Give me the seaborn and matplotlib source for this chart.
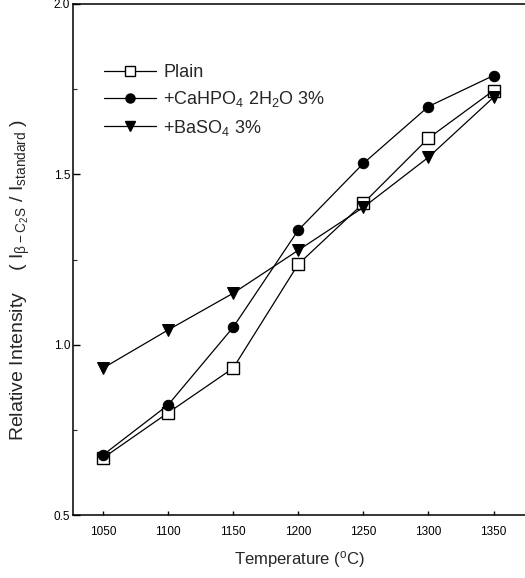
import matplotlib
matplotlib.use("Agg")
import matplotlib.pyplot as plt
import seaborn as sns
import pandas as pd
from matplotlib.lines import Line2D
from matplotlib.ticker import MultipleLocator

temperature = [1050, 1100, 1150, 1200, 1250, 1300, 1350]
plain = [0.667, 0.80, 0.931, 1.236, 1.415, 1.606, 1.746]
cahpo4 = [0.676, 0.823, 1.051, 1.336, 1.532, 1.699, 1.790]
baso4 = [0.931, 1.043, 1.151, 1.277, 1.403, 1.55, 1.726]
labels = ["Plain", "+CaHPO$_4$ 2H$_2$O 3%", "+BaSO$_4$ 3%"]
x_ticks = [1050, 1100, 1150, 1200, 1250, 1300, 1350]
y_ticks = [0.5, 1.0, 1.5, 2.0]

sns.set_style("ticks")
plt.rcParams['font.family'] = ['Liberation Sans', 'DejaVu Sans']
plt.rcParams['mathtext.default'] = 'regular'

fig = plt.figure(figsize=(5.25, 5.78), dpi=100)
ax = fig.add_axes([73/525, 63/578, 1 - 73/525 + 0.002, (515 - 4)/578])

series = [
    (plain, dict(marker='s', markersize=8.5, markerfacecolor='white', markeredgecolor='black', markeredgewidth=1.0)),
    (cahpo4, dict(marker='o', markersize=7.5, markerfacecolor='black', markeredgecolor='black')),
    (baso4, dict(marker='v', markersize=9, markerfacecolor='black', markeredgecolor='black')),
]
leg_sizes = [7, 6.5, 7.5]
handles = []
for (vals, mk), lab, ls in zip(series, labels, leg_sizes):
    df = pd.DataFrame({"T": temperature, "I": vals})
    sns.lineplot(data=df, x="T", y="I", ax=ax, color='black', linewidth=0.9, **mk)
    hk = dict(mk)
    hk['markersize'] = ls
    handles.append(Line2D([], [], color='black', linewidth=0.9, **hk))

ax.set_xlim(1027, 1375)
ax.set_ylim(0.5, 2.0)
ax.set_xticks(x_ticks)
ax.set_xticklabels([str(t) for t in x_ticks])
ax.set_yticks(y_ticks)
ax.set_yticklabels(["0.5", "1.0", "1.5", "2.0"])
ax.yaxis.set_minor_locator(MultipleLocator(0.25))
ax.tick_params(axis='both', which='major', direction='in', length=5, width=1, labelsize=8.5, colors='black')
ax.tick_params(axis='y', which='minor', direction='in', length=3, width=0.8)
ax.tick_params(axis='x', which='major', length=3, pad=8)
ax.tick_params(axis='y', which='major', pad=2)

for s in ['left', 'bottom', 'top']:
    ax.spines[s].set_color('black')
    ax.spines[s].set_linewidth(1.1)
ax.spines['right'].set_visible(False)

ax.set_xlabel("Temperature ($^{o}$C)", fontsize=12, labelpad=8)
ax.set_ylabel("Relative Intensity    ( I$_{\\beta - C_2S}$ / I$_{standard}$ )", fontsize=14)
ax.yaxis.set_label_coords(-0.09, 0.46)

leg = ax.legend(handles, labels, loc='upper left', bbox_to_anchor=(0.068, 0.882),
                frameon=False, fontsize=13, handlelength=2.9, handletextpad=0.4,
                labelspacing=0.45, borderaxespad=0, borderpad=0)

fig.savefig("out.png", dpi=100)
